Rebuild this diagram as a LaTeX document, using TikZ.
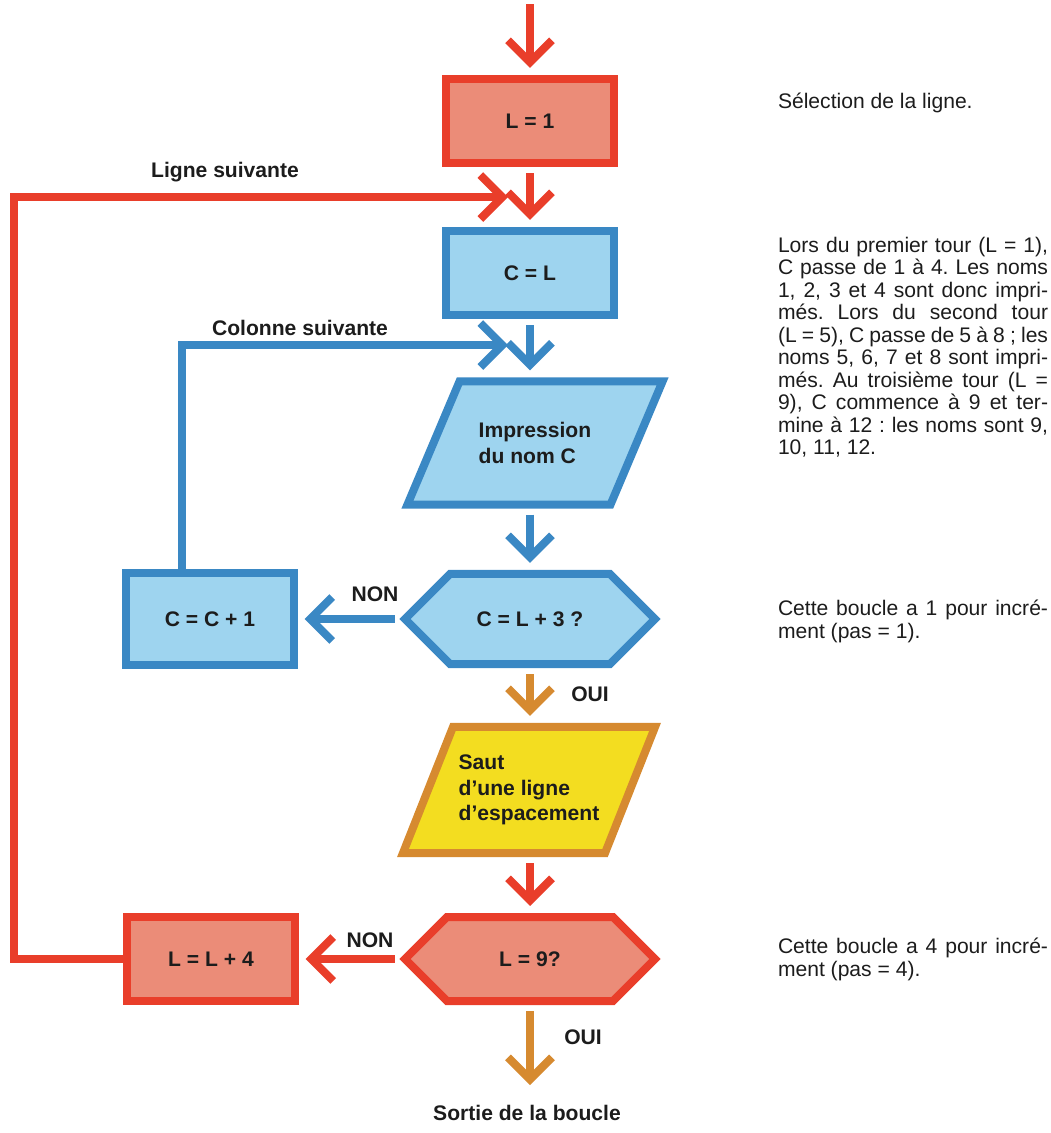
\documentclass[tikz,border=0pt]{standalone}
\usepackage{fontspec}
\setmainfont{Liberation Sans}
\usetikzlibrary{arrows.meta,calc,backgrounds}
\frenchspacing

\definecolor{rouge}{RGB}{233,62,42}
\definecolor{saumon}{RGB}{235,140,120}
\definecolor{bleu}{RGB}{58,136,196}
\definecolor{ciel}{RGB}{158,212,239}
\definecolor{ocre}{RGB}{214,138,48}
\definecolor{jaune}{RGB}{243,221,32}
\definecolor{encre}{RGB}{28,28,28}

% hexagone de test : noeud, pointe, couleurs
\newcommand{\hexagone}[3]{%
  \filldraw[cadre,#3] (#1.west) -- ($(#1.north west)+(#2,0)$) -- ($(#1.north east)+(-#2,0)$)
    -- (#1.east) -- ($(#1.south east)+(-#2,0)$) -- ($(#1.south west)+(#2,0)$) -- cycle;}
% parallelogramme d'entree-sortie : noeud, decalage, couleurs
\newcommand{\parallelo}[3]{%
  \filldraw[cadre,#3] ($(#1.north west)+(#2,0)$) -- (#1.north east)
    -- ($(#1.south east)+(-#2,0)$) -- (#1.south west) -- cycle;}

\begin{document}
\begin{tikzpicture}[x=0.025cm,y=-0.025cm,
  every node/.style={text=encre,outer sep=0pt},
  gras/.style={font=\fontsize{15}{18}\selectfont\bfseries},
  cadre/.style={line width=0.2cm},
  boite/.style={draw,rectangle,cadre,minimum width=4.175cm,minimum height=2.1cm,gras},
  forme/.style={rectangle,minimum width=6.25cm,minimum height=2.1cm,gras},
  lien/.style={line width=0.2cm,-{Straight Barb[length=0.55cm,width=1.1cm]}},
  fleche/.style={lien,shorten <=0.25cm,shorten >=0.275cm},
  note/.style={inner sep=0pt,font=\fontsize{15}{16}\selectfont},
  bloc/.style={note,anchor=north west,text width=6.75cm,align=justify}]
\useasboundingbox (0,0) rectangle (1051,1133);

% boites
\node[boite,draw=rouge,fill=saumon] (lun) at (530,121) {L = 1};
\node[boite,draw=bleu,fill=ciel] (cl) at (530,273) {C = L};
\node[forme,minimum width=6.375cm,minimum height=3.075cm,align=left] (imp) at (535,443) {Impression\\du nom C};
\node[forme,minimum height=2.25cm] (cq) at (530,619) {C = L + 3 ?};
\node[boite,draw=bleu,fill=ciel,minimum height=2.3cm] (cc1) at (210,619) {C = C + 1};
\node[forme,minimum width=6.3cm,minimum height=3.15cm,align=left] (saut) at (529,790) {Saut\\d'une ligne\\d'espacement};
\node[forme] (lq) at (530,959) {L = 9?};
\node[boite,draw=rouge,fill=saumon] (ll4) at (211,959) {L = L + 4};

\begin{scope}[on background layer]
\parallelo{imp}{52}{draw=bleu,fill=ciel}
\hexagone{cq}{45}{draw=bleu,fill=ciel}
\parallelo{saut}{50}{draw=ocre,fill=jaune}
\hexagone{lq}{42}{draw=rouge,fill=saumon}
\end{scope}

% liaisons
\coordinate (entree) at (530,-6);
\coordinate (ligne) at (508,197);
\coordinate (colonne) at (508,345);
\coordinate (sortie) at (530,1085);

\draw[fleche,rouge] (entree) -- (lun);
\draw[fleche,rouge] (lun) -- (cl);
\draw[fleche,bleu] (cl) -- (imp.north -| cl);
\draw[fleche,bleu] (imp.south -| cq) -- (cq);
\draw[fleche,bleu] (cq) -- (cc1);
\draw[fleche,ocre] (cq) -- (saut.north -| cq);
\draw[fleche,rouge] (saut.south -| lq) -- (lq);
\draw[fleche,rouge] (lq) -- (ll4);
\draw[fleche,ocre,shorten >=0pt] (lq) -- (sortie);
\draw[lien,bleu] ([xshift=-0.7cm]cc1.north) |- (colonne);
\draw[lien,rouge] (ll4.west) -- ++(-113,0) |- (ligne);

\node[gras] (tligne) at (225,172) {Ligne suivante};
\node[gras] (tcolonne) at (300,328) {Colonne suivante};
\node[gras] (non1) at (375,594) {NON};
\node[gras] (oui1) at (590,694) {OUI};
\node[gras] (non2) at (370,940) {NON};
\node[gras] (oui2) at (583,1037) {OUI};
\node[gras] (tsortie) at (527,1113) {Sortie de la boucle};

% commentaires
\node[note,anchor=west] (nsel) at (778,103) {Sélection de la ligne.};
\node[bloc] (ntour) at (778,237) {Lors du premier tour (L = 1),\linebreak C passe de 1 à 4. Les noms\linebreak 1, 2, 3 et 4 sont donc impri-\linebreak més. Lors du second tour\linebreak (L = 5), C passe de 5 à 8 ; les\linebreak noms 5, 6, 7 et 8 sont impri-\linebreak més. Au troisième tour (L =\linebreak 9), C commence à 9 et ter-\linebreak mine à 12 : les noms sont 9,\linebreak 10, 11, 12.};
\node[bloc] (npas1) at (778,600) {Cette boucle a 1 pour incré-\linebreak ment (pas = 1).};
\node[bloc] (npas4) at (778,938) {Cette boucle a 4 pour incré-\linebreak ment (pas = 4).};
\end{tikzpicture}
\end{document}
